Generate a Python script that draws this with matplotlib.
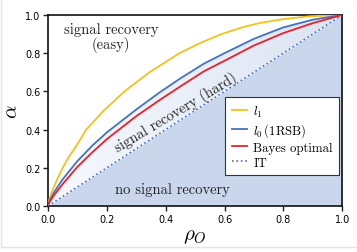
import numpy as np
import matplotlib
matplotlib.use('Agg')
import matplotlib.pyplot as plt
from matplotlib.lines import Line2D

plt.rcParams['mathtext.fontset'] = 'cm'

# curves (rho_O, alpha)
rho_l1 = [0.0, 0.004, 0.01, 0.02, 0.03, 0.05, 0.07, 0.09, 0.13, 0.19, 0.26, 0.345,
          0.447, 0.52, 0.59, 0.66, 0.72, 0.80, 0.89, 1.0]
alpha_l1 = [0.0, 0.03, 0.06, 0.10, 0.135, 0.20, 0.255, 0.30, 0.40, 0.50, 0.60, 0.70,
            0.80, 0.855, 0.90, 0.935, 0.958, 0.978, 0.993, 1.0]

rho_l0 = [0.0, 0.005, 0.02, 0.05, 0.10, 0.15, 0.20, 0.30, 0.38, 0.45, 0.53, 0.60,
          0.70, 0.80, 0.90, 1.0]
alpha_l0 = [0.0, 0.025, 0.07, 0.14, 0.235, 0.315, 0.385, 0.505, 0.595, 0.668, 0.745,
            0.80, 0.875, 0.935, 0.975, 1.0]

rho_bo = [0.0, 0.005, 0.02, 0.05, 0.10, 0.15, 0.20, 0.30, 0.38, 0.45, 0.53, 0.60,
          0.70, 0.80, 0.90, 1.0]
alpha_bo = [0.0, 0.02, 0.055, 0.115, 0.205, 0.28, 0.35, 0.47, 0.555, 0.626, 0.705,
            0.76, 0.84, 0.905, 0.957, 1.0]

rho_it = [0.0, 1.0]
alpha_it = [0.0, 1.0]

ticks = [0.0, 0.2, 0.4, 0.6, 0.8, 1.0]

fig = plt.figure(figsize=(3.57, 2.53), dpi=100)
ax = fig.add_axes([0.1345, 0.182, 0.824, 0.755])

# region below IT line
ax.fill_between(rho_it, 0, alpha_it, color='#c9d6ec', lw=0, zorder=0)

# hard region: horizontal gradient clipped between IT and l0
grad = np.linspace(0, 1, 256).reshape(1, -1)
cmap = matplotlib.colors.LinearSegmentedColormap.from_list('g', ['#f7f9fd', '#dbe4f3'])
im = ax.imshow(grad, extent=[0, 1, 0, 1], aspect='auto', cmap=cmap, origin='lower', zorder=0)
poly = ax.fill_between(rho_l0, np.interp(rho_l0, rho_it, alpha_it), alpha_l0,
                       facecolor='none', lw=0)
im.set_clip_path(poly.get_paths()[0], transform=ax.transData)

ax.plot(rho_l1, alpha_l1, color='#f7c01c', lw=1.3, zorder=3)
ax.plot(rho_l0, alpha_l0, color='#4472c4', lw=1.3, zorder=3)
ax.plot(rho_bo, alpha_bo, color='#f01e28', lw=1.3, zorder=3)
ax.plot(rho_it, alpha_it, color='#4472c4', lw=1.2, ls=':', zorder=3)

ax.set_xlim(0, 1)
ax.set_ylim(0, 1)
ax.set_xticks(ticks)
ax.set_yticks(ticks)
ax.tick_params(labelsize=7, length=3.5, width=1, pad=2, color='#222222')
for s in ax.spines.values():
    s.set_linewidth(1.2)
    s.set_color('#111111')

ax.set_xlabel(r'$\rho_O$', fontsize=15, labelpad=1)
ax.set_ylabel(r'$\alpha$', fontsize=15, labelpad=3)

txt = dict(family='cmr10', color='#222222')
ax.text(0.215, 0.885, 'signal recovery\n(easy)', ha='center', va='center',
        fontsize=10.5, linespacing=1.0, **txt)
ax.text(0.435, 0.49, 'signal recovery (hard)', ha='center', va='center',
        fontsize=10.5, rotation=31, rotation_mode='anchor', **txt)
ax.text(0.424, 0.09, 'no signal recovery', ha='center', va='center',
        fontsize=10.5, **txt)

handles = [Line2D([], [], color='#f7c01c', lw=1.3),
           Line2D([], [], color='#4472c4', lw=1.3),
           Line2D([], [], color='#f01e28', lw=1.3),
           Line2D([], [], color='#4472c4', lw=1.2, ls=':')]
labels = [r'$l_1$', r'$l_0\,$(1RSB)', 'Bayes optimal', 'IT']
leg = ax.legend(handles, labels, loc='lower right', bbox_to_anchor=(0.99, 0.162),
                prop={'family': 'cmr10', 'size': 9.2},
                handlelength=1.2, handletextpad=0.5, labelspacing=0.2,
                borderpad=0.5, borderaxespad=0, fancybox=False, framealpha=1,
                edgecolor='#333333')
leg.get_frame().set_linewidth(0.8)
leg.set_zorder(5)

# faint frame edges of the original screenshot
fig.add_artist(Line2D([0.003, 0.003], [0.02, 1.0], color='#e4e4e4', lw=1, transform=fig.transFigure))
fig.add_artist(Line2D([0.003, 1.0], [0.02, 0.02], color='#e4e4e4', lw=1, transform=fig.transFigure))

fig.savefig('out.png', dpi=100)
